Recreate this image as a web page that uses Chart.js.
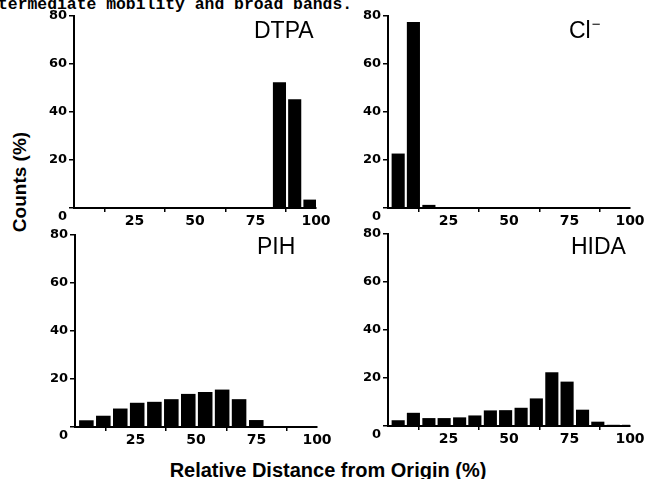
<!DOCTYPE html>
<html>
<head>
<meta charset="utf-8">
<title>Relative distance histograms</title>
<script src="https://cdn.jsdelivr.net/npm/chart.js@4.4.1/dist/chart.umd.min.js"></script>
<style>
    html, body { margin: 0; padding: 0; background: #fff; }
    #page { position: relative; width: 647px; height: 479px; overflow: hidden; background: #fff; }
    #page canvas { position: absolute; }
    .txt { position: absolute; white-space: nowrap; color: #000; line-height: 1; }
    .caption { font-family: 'Liberation Mono', monospace; font-weight: bold; font-size: 16.4px; left: -2px; top: -3px; }
    .panel-title { font-family: 'Liberation Sans', Arial, sans-serif; font-size: 23px; }
    .panel-title .sup { font-size: 15px; position: relative; top: -9px; margin-left: 1px; }
    .axis-label { font-family: 'Liberation Sans', Arial, sans-serif; font-weight: bold; }
    #ylabel { font-size: 19px; left: 19px; top: 182px; transform: translate(-50%, -50%) rotate(-90deg); }
    #xlabel { font-size: 20px; left: 328px; top: 460px; transform: translateX(-50%); }
</style>
</head>
<body>
<div id="page">
    <div class="txt caption">termediate mobility and broad bands.</div>

    <canvas id="dtpaChart" width="292" height="227" style="left:44px; top:5px;"></canvas>
    <canvas id="chlorideChart" width="289" height="227" style="left:358px; top:5px;"></canvas>
    <canvas id="pihChart" width="292" height="227" style="left:45px; top:224px;"></canvas>
    <canvas id="hidaChart" width="289" height="227" style="left:358px; top:223px;"></canvas>

    <div class="txt panel-title" style="left:254px; top:19px;">DTPA</div>
    <div class="txt panel-title" style="left:569px; top:19px;">Cl<span class="sup">−</span></div>
    <div class="txt panel-title" style="left:257px; top:235px;">PIH</div>
    <div class="txt panel-title" style="left:571px; top:235px;">HIDA</div>

    <div id="ylabel" class="txt axis-label">Counts (%)</div>
    <div id="xlabel" class="txt axis-label">Relative Distance from Origin (%)</div>
</div>

<script>
// bin centres (relative distance, %)
const dtpaBins = [3.0, 9.3, 15.6, 21.9, 28.2, 34.5, 40.8, 47.1, 53.4, 59.7, 66.0, 72.3, 78.6, 84.9, 91.2, 97.5];
const chlorideBins = [4.2, 10.5, 16.9, 23.2, 29.6, 35.9, 42.3, 48.6, 55.0, 61.3, 67.7, 74.0, 80.4, 86.7, 93.1, 99.4];
const pihBins = [4.7, 11.7, 18.7, 25.7, 32.8, 39.8, 46.8, 53.8, 60.8, 67.8, 74.9, 81.9, 88.9, 95.9];
const hidaBins = [4.2, 10.5, 16.9, 23.2, 29.6, 35.9, 42.3, 48.6, 55.0, 61.3, 67.7, 74.0, 80.4, 86.7, 93.1, 99.4];

// counts (%)
const dtpaCounts = [0, 0, 0, 0, 0, 0, 0, 0, 0, 0, 0, 0, 0, 52.4, 45.3, 3.5];
const chlorideCounts = [22.7, 77.5, 1.3, 0, 0, 0, 0, 0, 0, 0, 0, 0, 0, 0, 0, 0];
const pihCounts = [2.8, 4.7, 7.7, 10.1, 10.5, 11.6, 13.8, 14.6, 15.6, 11.6, 2.9, 0, 0, 0];
const hidaCounts = [2.4, 5.5, 3.3, 3.3, 3.6, 4.4, 6.5, 6.6, 7.6, 11.5, 22.4, 18.5, 6.8, 1.8, 0.5, 0.5];

const xTicks = [0, 25, 50, 75, 100];
const yTicks = [0, 20, 40, 60, 80];

document.addEventListener('DOMContentLoaded', function() {
    if (typeof Chart === 'undefined') {
        console.warn('Chart.js is not loaded');
        return;
    }
    Chart.defaults.color = '#000';

    initPanel('dtpaChart', dtpaBins, dtpaCounts, 20);
    initPanel('chlorideChart', chlorideBins, chlorideCounts, 17);
    initPanel('pihChart', pihBins, pihCounts, 20);
    initPanel('hidaChart', hidaBins, hidaCounts, 17);
});

function initPanel(canvasId, bins, counts, padRight) {
    const ctx = document.getElementById(canvasId);
    if (!ctx) return;

    new Chart(ctx, {
        type: 'bar',
        data: {
            datasets: [{
                data: bins.map((x, i) => ({ x: x, y: counts[i] })),
                backgroundColor: '#000',
                borderWidth: 0,
                barPercentage: 0.86,
                categoryPercentage: 1.0
            }]
        },
        options: getPanelOptions(padRight)
    });
}

function getPanelOptions(padRight) {
    return {
        responsive: false,
        animation: false,
        devicePixelRatio: 1,
        layout: { padding: { top: 10, right: padRight, left: 0, bottom: 0 } },
        plugins: {
            legend: { display: false },
            tooltip: { enabled: false }
        },
        scales: {
            x: {
                type: 'linear',
                offset: false,
                min: 0,
                max: 100,
                afterBuildTicks: function(scale) {
                    scale.ticks = xTicks.map(v => ({ value: v }));
                },
                afterFit: function(scale) { scale.height = 24; },
                border: { display: true, color: '#000', width: 2 },
                grid: {
                    drawOnChartArea: false,
                    drawTicks: true,
                    tickLength: 4,
                    color: '#000',
                    lineWidth: 1.5
                },
                ticks: {
                    maxRotation: 0,
                    autoSkip: false,
                    padding: 1,
                    color: '#000',
                    font: { family: "'DejaVu Sans', sans-serif", size: 14, weight: 'bold' },
                    callback: function(value) { return value === 0 ? '' : String(value); }
                }
            },
            y: {
                min: 0,
                max: 80,
                afterBuildTicks: function(scale) {
                    scale.ticks = yTicks.map(v => ({ value: v }));
                },
                afterFit: function(scale) { scale.width = 30; },
                border: { display: true, color: '#000', width: 2 },
                grid: {
                    drawOnChartArea: false,
                    drawTicks: true,
                    tickLength: 5,
                    color: '#000',
                    lineWidth: 1.5
                },
                ticks: {
                    padding: 2,
                    color: '#000',
                    font: { family: "'DejaVu Sans', sans-serif", size: 13, weight: 'bold', lineHeight: 1.4 },
                    // the shared origin "0" sits a little below the corner
                    callback: function(value) { return value === 0 ? ['', '0'] : String(value); }
                }
            }
        }
    };
}
</script>
</body>
</html>
